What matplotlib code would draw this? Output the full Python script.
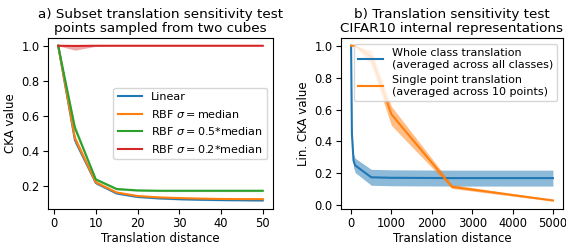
import matplotlib
matplotlib.use("Agg")
import matplotlib.pyplot as plt
import numpy as np

# Left panel data
dist_a = [1, 5, 10, 15, 20, 25, 30, 35, 40, 45, 50]
linear = [1.0, 0.46, 0.215, 0.155, 0.135, 0.127, 0.122, 0.119, 0.117, 0.116, 0.115]
linear_sd = [0.0, 0.02, 0.008, 0.006, 0.005, 0.005, 0.005, 0.005, 0.005, 0.005, 0.005]
rbf1 = [1.0, 0.47, 0.218, 0.16, 0.14, 0.132, 0.128, 0.125, 0.123, 0.122, 0.122]
rbf1_sd = [0.0, 0.02, 0.008, 0.006, 0.005, 0.005, 0.005, 0.005, 0.005, 0.005, 0.005]
rbf05 = [1.0, 0.53, 0.235, 0.18, 0.172, 0.17, 0.17, 0.17, 0.17, 0.17, 0.17]
rbf05_sd = [0.0, 0.02, 0.008, 0.006, 0.005, 0.005, 0.005, 0.005, 0.005, 0.005, 0.005]
rbf02 = [1.0, 0.999, 1.0, 1.0, 1.0, 1.0, 1.0, 1.0, 1.0, 1.0, 1.0]
rbf02_lo = [1.0, 0.975, 0.997, 1.0, 1.0, 1.0, 1.0, 1.0, 1.0, 1.0, 1.0]
rbf02_hi = [1.0, 1.0, 1.0, 1.0, 1.0, 1.0, 1.0, 1.0, 1.0, 1.0, 1.0]

# Right panel data
dist_b = [0, 20, 60, 100, 500, 1000, 2500, 5000]
whole = [1.0, 0.45, 0.28, 0.25, 0.175, 0.172, 0.17, 0.17]
whole_lo = [1.0, 0.42, 0.24, 0.205, 0.125, 0.122, 0.12, 0.12]
whole_hi = [1.0, 0.48, 0.32, 0.295, 0.225, 0.222, 0.22, 0.22]
single = [1.0, 1.0, 1.0, 1.0, 0.93, 0.57, 0.115, 0.03]
single_lo = [1.0, 1.0, 1.0, 1.0, 0.88, 0.5, 0.105, 0.025]
single_hi = [1.0, 1.0, 1.0, 1.0, 0.97, 0.62, 0.13, 0.035]

c_blue, c_orange, c_green, c_red = "#1f77b4", "#ff7f0e", "#2ca02c", "#d62728"

W, H = 566, 245
fig = plt.figure(figsize=(W / 100, H / 100), dpi=100)
ax1 = fig.add_axes([48 / W, 1 - 209 / H, 225 / W, 171 / H])
ax2 = fig.add_axes([341 / W, 1 - 209 / H, 222 / W, 171 / H])

def band(ax, x, y, sd, c):
    y = np.array(y); sd = np.array(sd)
    ax.fill_between(x, y - sd, y + sd, color=c, alpha=0.4, lw=0)

band(ax1, dist_a, linear, linear_sd, c_blue)
ax1.plot(dist_a, linear, color=c_blue, label="Linear")
band(ax1, dist_a, rbf1, rbf1_sd, c_orange)
ax1.plot(dist_a, rbf1, color=c_orange, label=r"RBF $\sigma=$median")
band(ax1, dist_a, rbf05, rbf05_sd, c_green)
ax1.plot(dist_a, rbf05, color=c_green, label=r"RBF $\sigma=0.5$*median")
ax1.fill_between(dist_a, rbf02_lo, rbf02_hi, color=c_red, alpha=0.4, lw=0)
ax1.plot(dist_a, rbf02, color=c_red, label=r"RBF $\sigma=0.2$*median")
ax1.set_title("a) Subset translation sensitivity test\npoints sampled from two cubes", fontsize=9.7, pad=4, linespacing=1.1)
ax1.set_xlabel("Translation distance", fontsize=8.5, labelpad=1)
ax1.set_ylabel("CKA value", fontsize=8.5, labelpad=3)
ax1.set_yticks([0.2, 0.4, 0.6, 0.8, 1.0])
ax1.set_xticks([0, 10, 20, 30, 40, 50])
ax1.tick_params(labelsize=8.3, pad=2.5)
ax1.legend(loc="center right", fontsize=8, handlelength=2.2)

ax2.fill_between(dist_b, whole_lo, whole_hi, color=c_blue, alpha=0.5, lw=0)
ax2.plot(dist_b, whole, color=c_blue, label="Whole class translation\n(averaged across all classes)")
ax2.fill_between(dist_b, single_lo, single_hi, color=c_orange, alpha=0.5, lw=0)
ax2.plot(dist_b, single, color=c_orange, label="Single point translation\n(averaged across 10 points)")
ax2.set_title("b) Translation sensitivity test\nCIFAR10 internal representations", fontsize=9.7, pad=4, linespacing=1.1)
ax2.set_xlabel("Translation distance", fontsize=8.5, labelpad=1)
ax2.set_ylabel("Lin. CKA value", fontsize=8.5, labelpad=3)
ax2.set_yticks([0.0, 0.2, 0.4, 0.6, 0.8, 1.0])
ax2.set_xticks([0, 1000, 2000, 3000, 4000, 5000])
ax2.tick_params(labelsize=8.3, pad=2.5)
ax2.legend(loc="upper right", fontsize=8, handlelength=2.2)

fig.savefig("out.png", dpi=100)
